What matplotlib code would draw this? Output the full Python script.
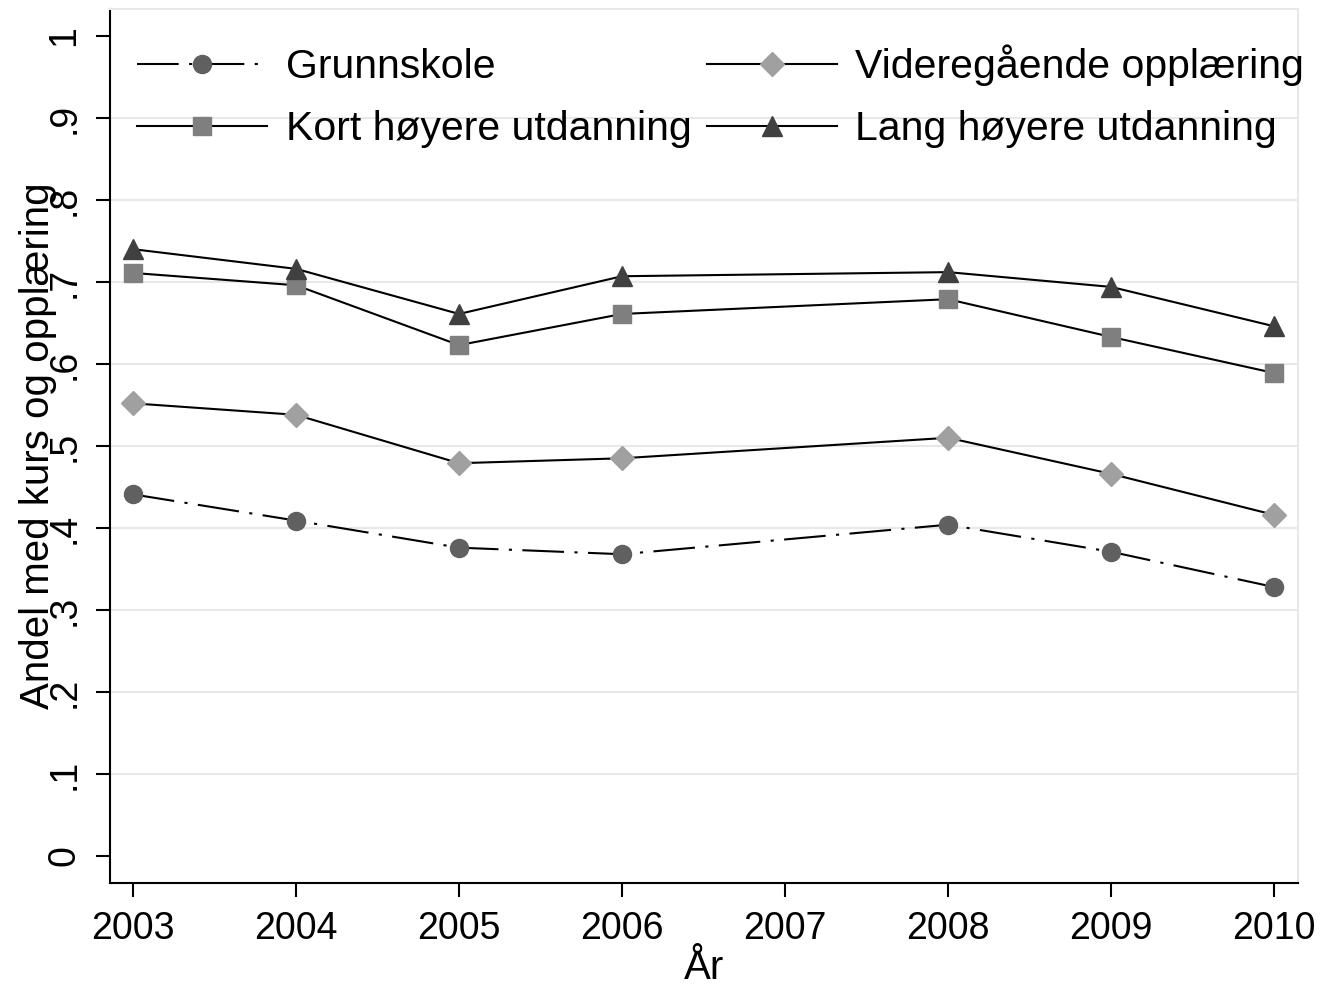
import matplotlib.pyplot as plt
import numpy as np

plt.rcParams['font.family'] = ['Liberation Sans', 'DejaVu Sans']

years = np.array([2003, 2004, 2005, 2006, 2008, 2009, 2010])
grunnskole = np.array([0.441, 0.409, 0.376, 0.368, 0.404, 0.371, 0.328])
videregaende = np.array([0.552, 0.538, 0.479, 0.485, 0.510, 0.466, 0.416])
kort = np.array([0.711, 0.696, 0.623, 0.661, 0.679, 0.633, 0.589])
lang = np.array([0.740, 0.716, 0.661, 0.707, 0.712, 0.694, 0.646])

labels = ['Grunnskole', 'Videregående opplæring',
          'Kort høyere utdanning', 'Lang høyere utdanning']
xticks = [2003, 2004, 2005, 2006, 2007, 2008, 2009, 2010]
yticks = [0, 0.1, 0.2, 0.3, 0.4, 0.5, 0.6, 0.7, 0.8, 0.9, 1.0]
yticklabels = ['0', '.1', '.2', '.3', '.4', '.5', '.6', '.7', '.8', '.9', '1']

fig = plt.figure(figsize=(13.21, 9.88), dpi=100)
ax = fig.add_axes([0.0833, 0.1063, 0.8993, 0.8846])

lw = 1.5
l1, = ax.plot(years, grunnskole, color='black', lw=lw, dashes=(20, 5, 1.5, 5),
              marker='o', ms=13, mfc='#606060', mec='#606060')
l2, = ax.plot(years, videregaende, color='black', lw=lw,
              marker='D', ms=12, mfc='#a0a0a0', mec='#a0a0a0')
l3, = ax.plot(years, kort, color='black', lw=lw,
              marker='s', ms=12.5, mfc='#7f7f7f', mec='#7f7f7f')
l4, = ax.plot(years, lang, color='black', lw=lw,
              marker='^', ms=14, mfc='#404040', mec='#404040')

ax.set_xlim(2002.859, 2010.147)
ax.set_ylim(-0.0329, 1.0329)
ax.set_xticks(xticks)
ax.set_xticklabels([str(x) for x in xticks], fontsize=27)
ax.set_yticks(yticks)
ax.set_yticklabels(yticklabels, fontsize=27, rotation=90, va='center')
ax.tick_params(direction='out', length=10, width=1.5, pad=10)

# gridlines only for interior ticks
for y in yticks[1:-1]:
    ax.axhline(y, color='#e8e8e8', lw=1.5, zorder=0)

for s in ['left', 'bottom']:
    ax.spines[s].set_linewidth(1.5)
for s in ['top', 'right']:
    ax.spines[s].set_color('#e8e8e8')
    ax.spines[s].set_linewidth(1.5)

ax.set_xlabel('År', fontsize=29)
ax.xaxis.set_label_coords(0.5, -0.075)
ax.set_ylabel('Andel med kurs og opplæring', fontsize=29)
ax.yaxis.set_label_coords(-0.045, 0.5)

# legend fills column-wise, so order handles to read row-wise
ax.legend([l1, l3, l2, l4], [labels[0], labels[2], labels[1], labels[3]],
          ncol=2, frameon=False, fontsize=29.5,
          loc='upper left', bbox_to_anchor=(0.0227, 0.959), borderpad=0,
          borderaxespad=0, handlelength=3.18, handletextpad=0.45,
          columnspacing=0.37, labelspacing=0.58)

fig.savefig('out.png', dpi=100)
